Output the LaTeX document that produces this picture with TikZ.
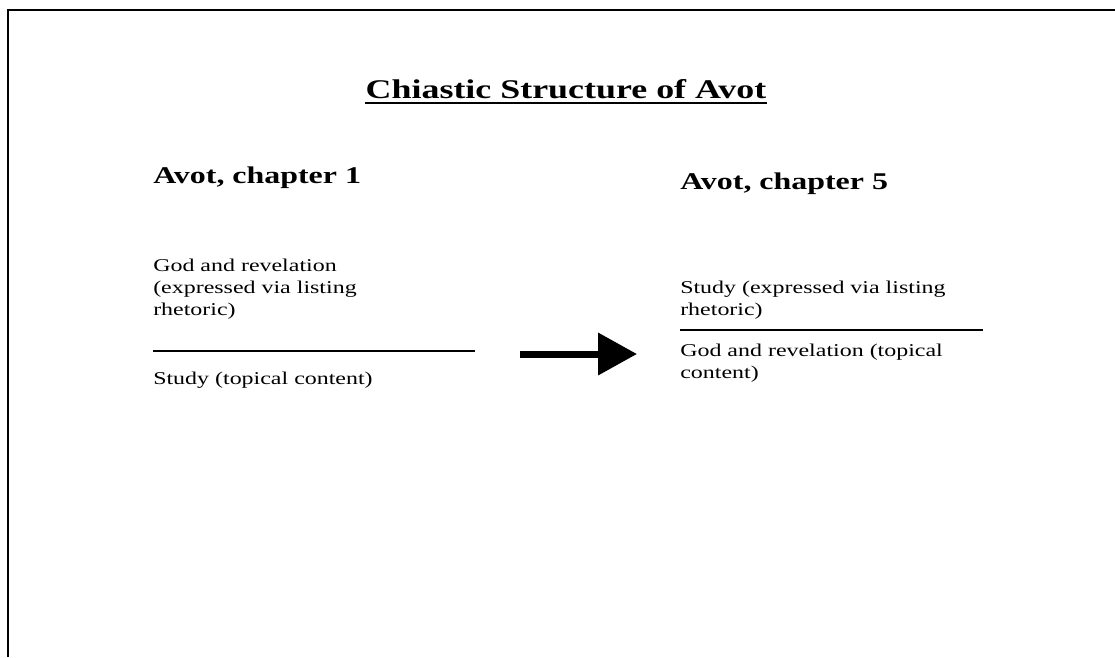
\documentclass[tikz,border=0pt]{standalone}
\usepackage{fontspec}
\setmainfont{Liberation Serif}
\usepackage{tikz}
\usetikzlibrary{arrows.meta,positioning}

\tikzset{
  wide/.style={inner sep=0pt,anchor=base west,xscale=1.33},
  head/.style={wide,font=\bfseries\fontsize{24}{28}\selectfont},
  body/.style={wide,align=left,font=\fontsize{18}{22}\selectfont},
  rule/.style={line width=1.2pt},
}

\begin{document}
\begin{tikzpicture}[x=1pt,y=-1pt]
\useasboundingbox (0,0) rectangle (1115,657);

% frame
\draw[line width=2pt] (8,657) -- (8,10) -- (1115,10);

\node[inner sep=0pt,anchor=base,xscale=1.33,font=\bfseries\fontsize{27}{32}\selectfont] (title) at (566,98) {Chiastic Structure of Avot};
\draw[line width=1.6pt] ([yshift=-5pt]title.base west) -- ([yshift=-5pt]title.base east);

\node[head] (ch1) at (153,183) {Avot, chapter 1};
\node[head] (ch5) at (680,189) {Avot, chapter 5};

% chapter 1 (base = last line)
\node[body] (l1) at (153,315) {God and revelation\\(expressed via listing\\rhetoric)};
\coordinate (la) at (153,351);
\coordinate (lb) at (475,351);
\draw[rule] (la) -- (lb);
\node[body] (l2) at (153,384) {Study (topical content)};

% chapter 5
\node[body] (r1) at (680,315) {Study (expressed via listing\\rhetoric)};
\coordinate (ra) at (680,330);
\coordinate (rb) at (983,330);
\draw[rule] (ra) -- (rb);
\node[body] (r2) at (680,378) {God and revelation (topical\\content)};

% arrow
\coordinate (from) at (520,354);
\coordinate (to) at (637,354);
\draw[line width=7pt,-{Triangle[length=39pt,width=41pt]}] (from) -- (to);
\end{tikzpicture}
\end{document}
